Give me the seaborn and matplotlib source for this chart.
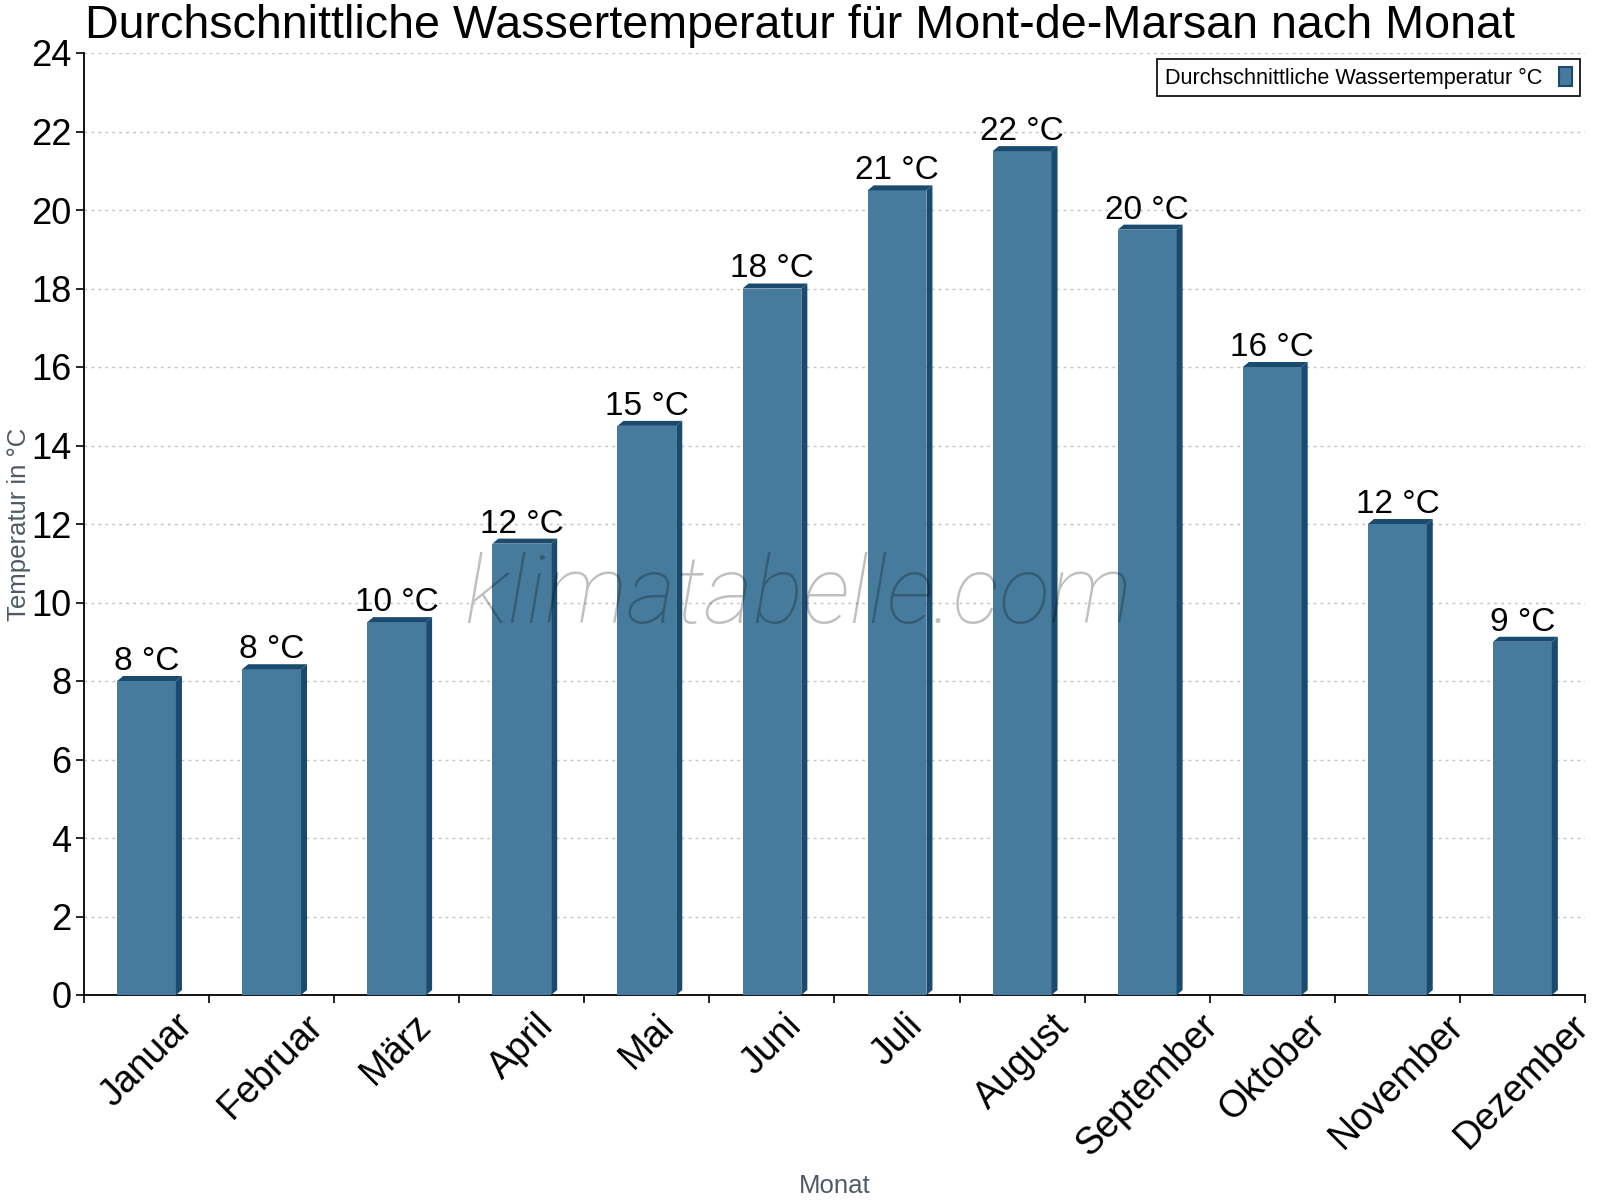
import numpy as np
import seaborn as sns
import matplotlib.pyplot as plt
from matplotlib.patches import Patch, Polygon

months = ['Januar', 'Februar', 'März', 'April', 'Mai', 'Juni', 'Juli',
          'August', 'September', 'Oktober', 'November', 'Dezember']
water_temp = [8.0, 8.3, 9.5, 11.5, 14.5, 18.0, 20.5, 21.5, 19.5, 16.0, 12.0, 9.0]
bar_labels = ['8 °C', '8 °C', '10 °C', '12 °C', '15 °C', '18 °C', '21 °C',
              '22 °C', '20 °C', '16 °C', '12 °C', '9 °C']
y_ticks = list(range(0, 25, 2))

title = 'Durchschnittliche Wassertemperatur für Mont-de-Marsan nach Monat'
legend_label = 'Durchschnittliche Wassertemperatur °C'

BODY = '#467b9d'
DARK = '#1a4b6e'

sns.set_style('white')
plt.rcParams['font.family'] = ['Liberation Sans', 'DejaVu Sans']
plt.rcParams['text.color'] = 'black'
plt.rcParams['xtick.color'] = 'black'
plt.rcParams['ytick.color'] = 'black'

fig = plt.figure(figsize=(16, 12), dpi=100)
ax = fig.add_axes([84 / 1600, 1 - 995 / 1200, 1501 / 1600, 942 / 1200])

sns.barplot(x=months, y=water_temp, color=BODY, saturation=1, width=0.47,
            linewidth=0, ax=ax, zorder=3)

ax.set_xlim(-0.5, 11.5)
ax.set_ylim(0, 24)
ax.set_axisbelow(True)

# fake 3d: dark side + top face, offsets in pixels
px_x = ax.bbox.width / 12
px_y = ax.bbox.height / 24
dx, dy = 6 / px_x, 5 / px_y
for bar in list(ax.patches):
    x0, w, h = bar.get_x(), bar.get_width(), bar.get_height()
    x1 = x0 + w
    side = Polygon([(x1, 0), (x1, h), (x1 + dx, h + dy), (x1 + dx, dy)],
                   closed=True, facecolor=DARK, edgecolor='none', zorder=3)
    top = Polygon([(x0, h), (x0 + dx, h + dy), (x1 + dx, h + dy), (x1, h)],
                  closed=True, facecolor=DARK, edgecolor='none', zorder=3)
    ax.add_patch(side)
    ax.add_patch(top)

for i, (val, lab) in enumerate(zip(water_temp, bar_labels)):
    ax.annotate(lab, (i, val), xytext=(0, 8), textcoords='offset points',
                ha='center', va='baseline', fontsize=24, color='black', zorder=4)

# ticks between categories, labels at the centres
ax.set_xticks(np.arange(-0.5, 12, 1))
ax.set_xticklabels([])
ax.set_xticks(range(12), minor=True)
ax.set_xticklabels(months, minor=True)
ax.tick_params(axis='x', which='major', length=6, width=1.2, direction='out',
               color='black', bottom=True)
ax.tick_params(axis='x', which='minor', length=0, pad=9, labelsize=27,
               labelcolor='black')
for t in ax.get_xticklabels(minor=True):
    t.set_rotation(45)
    t.set_ha('center')
    t.set_va('top')

ax.set_yticks(y_ticks)
ax.tick_params(axis='y', length=6, width=1.2, direction='out', color='black',
               left=True, pad=3, labelsize=26, labelcolor='black')

ax.yaxis.grid(True, color='#c4c4c4', linestyle=(0, (2, 3)), linewidth=1)
ax.xaxis.grid(False)

for s in ['top', 'right']:
    ax.spines[s].set_visible(False)
for s in ['left', 'bottom']:
    ax.spines[s].set_color('black')
    ax.spines[s].set_linewidth(1.3)

ax.set_xlabel('Monat', fontsize=18.5, color='#505a64')
ax.xaxis.set_label_coords(0.5, -0.19)
ax.set_ylabel('Temperatur in °C', fontsize=18.5, color='#505a64')
ax.yaxis.set_label_coords(-0.035, 0.5)

handle = Patch(facecolor=BODY, edgecolor=DARK, linewidth=1.5)
leg = ax.legend(handles=[handle], labels=[legend_label], loc='upper right',
                bbox_to_anchor=(1 - 5 / 1501, 1 - 6 / 942), borderaxespad=0,
                markerfirst=False, fontsize=15.6, frameon=True, fancybox=False,
                edgecolor='black', framealpha=1, handlelength=0.6,
                handleheight=1.0, borderpad=0.35, handletextpad=0.8)
leg.get_frame().set_linewidth(1.2)

fig.text(0.5, 1 - 38 / 1200, title, ha='center', va='baseline', fontsize=33.6)

fig.text(0.499, 0.5025, 'klimatabelle.com', ha='center', va='center',
         fontsize=68, style='italic', fontweight='light', color='black',
         alpha=0.25, family=['Roboto', 'Liberation Sans', 'DejaVu Sans'])

fig.savefig('out.png', dpi=100)
